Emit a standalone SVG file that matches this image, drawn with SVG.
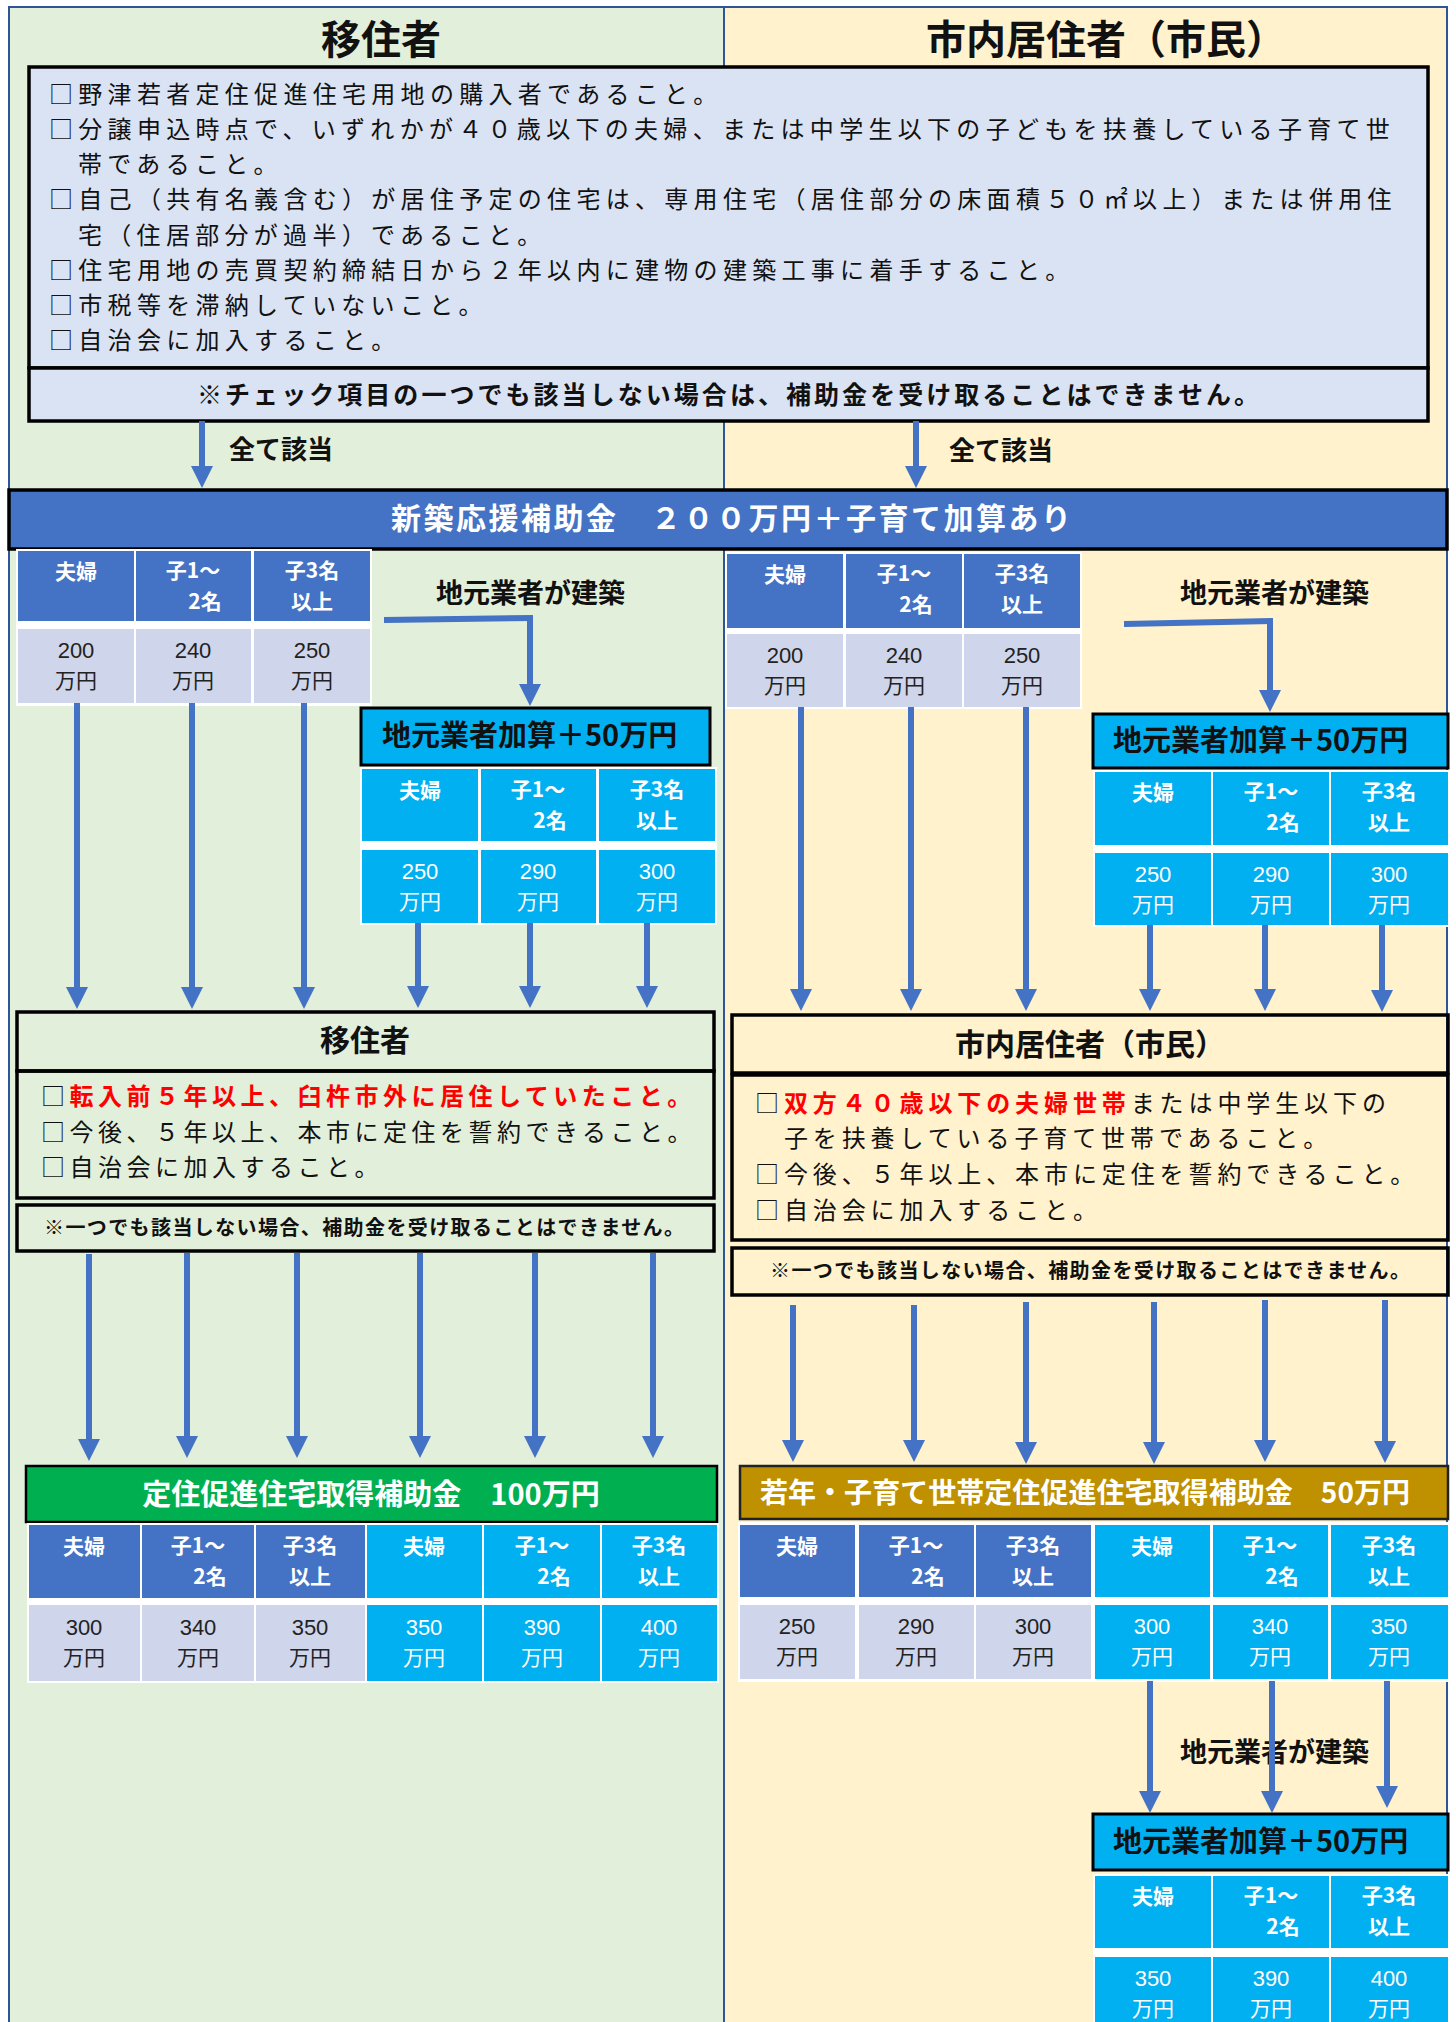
<svg xmlns="http://www.w3.org/2000/svg" width="1456" height="2022" viewBox="0 0 1456 2022">
<style>
text{font-family:"Noto Sans CJK JP","Noto Sans CJK SC","Noto Sans",sans-serif;}
.b{font-weight:700;}
.box{fill:none;stroke:#000;stroke-width:3.5;}
.hb{fill:#4472C4;}
.hc{fill:#00B0F0;}
.vl{fill:#CFD5EA;}
.th{font-size:21px;font-weight:700;fill:#fff;text-anchor:middle;}
.tv{font-size:21px;fill:#222;text-anchor:middle;}
.tvc{font-size:21px;fill:#fff;text-anchor:middle;}
.dg{font-family:"Liberation Sans",Arial,sans-serif;font-size:22px;}
.cond{font-size:24px;fill:#111;letter-spacing:5.3px;}
.cond2{font-size:24px;fill:#111;letter-spacing:4.5px;}
.cond3{font-size:24px;fill:#111;letter-spacing:4.9px;}
.red{fill:#FF0000;font-weight:700;}
.arr{stroke:#4472C4;stroke-width:6;fill:none;marker-end:url(#ah);}
.brk{stroke:#4472C4;stroke-width:6;fill:none;}
</style>
<defs>
<marker id="ah" markerUnits="userSpaceOnUse" markerWidth="22" markerHeight="22" viewBox="0 0 22 22" refX="1" refY="11" orient="auto"><path d="M0,0 L22,11 L0,22 z" fill="#4472C4"/></marker>
</defs>
<rect x="0" y="0" width="1456" height="2022" fill="#fff"/>
<rect x="9" y="7" width="715" height="2030" fill="#E2EFDA" stroke="#2F5597" stroke-width="2"/>
<rect x="724" y="7" width="723" height="2030" fill="#FFF2CC" stroke="#2F5597" stroke-width="2"/>

<g id="title-left"><text x="381" y="54" class="b" font-size="40" text-anchor="middle" fill="#111">移住者</text></g>
<g id="title-right"><text x="1106" y="54" class="b" font-size="40" text-anchor="middle" fill="#111">市内居住者（市民）</text></g>

<g id="checklist">
<rect x="29" y="67" width="1399" height="301" fill="#DAE3F3" stroke="#000" stroke-width="3.5"/>
<text class="cond"><tspan x="49" y="103">□野津若者定住促進住宅用地の購入者であること。</tspan><tspan x="49" y="138">□分譲申込時点で、いずれかが４０歳以下の夫婦、または中学生以下の子どもを扶養している子育て世</tspan><tspan x="78" y="173">帯であること。</tspan><tspan x="49" y="208">□自己（共有名義含む）が居住予定の住宅は、専用住宅（居住部分の床面積５０㎡以上）または併用住</tspan><tspan x="78" y="244">宅（住居部分が過半）であること。</tspan><tspan x="49" y="279">□住宅用地の売買契約締結日から２年以内に建物の建築工事に着手すること。</tspan><tspan x="49" y="314">□市税等を滞納していないこと。</tspan><tspan x="49" y="349">□自治会に加入すること。</tspan></text>
</g>
<g id="check-note">
<rect x="29" y="368" width="1399" height="53" fill="#DAE3F3" stroke="#000" stroke-width="3.5"/>
<text x="197" y="404" class="b" font-size="25" fill="#111" textLength="1062" lengthAdjust="spacing">※チェック項目の一つでも該当しない場合は、補助金を受け取ることはできません。</text>
</g>
<g id="label-all-left"><text x="229" y="459" class="b" font-size="26" fill="#111">全て該当</text></g>
<g id="label-all-right"><text x="949" y="460" class="b" font-size="26" fill="#111">全て該当</text></g>

<g id="banner-new">
<rect x="9" y="490" width="1438" height="59" fill="#4472C4" stroke="#000" stroke-width="3.5"/>
<text x="391" y="529" class="b" font-size="30" fill="#fff" textLength="680" lengthAdjust="spacing">新築応援補助金　２００万円＋子育て加算あり</text>
</g>

<g id="table-left-base">
<rect x="16" y="549" width="356" height="157" fill="#fff"/>
<rect class="hb" x="18" y="551" width="116" height="70"/><rect class="hb" x="136" y="551" width="115" height="70"/><rect class="hb" x="254" y="551" width="116" height="70"/>
<rect class="vl" x="18" y="629" width="116" height="74"/><rect class="vl" x="136" y="629" width="115" height="74"/><rect class="vl" x="254" y="629" width="116" height="74"/>
<text class="th" x="76" y="579">夫婦</text>
<text class="th"><tspan x="193" y="578">子1～</tspan><tspan x="205" y="609">2名</tspan></text>
<text class="th"><tspan x="312" y="578">子3名</tspan><tspan x="312" y="609">以上</tspan></text>
<text class="tv"><tspan class="dg" x="76" y="658">200</tspan><tspan x="76" y="688">万円</tspan></text>
<text class="tv"><tspan class="dg" x="193" y="658">240</tspan><tspan x="193" y="688">万円</tspan></text>
<text class="tv"><tspan class="dg" x="312" y="658">250</tspan><tspan x="312" y="688">万円</tspan></text>
</g>

<g id="label-local-left"><text x="436" y="603" class="b" font-size="27" fill="#111">地元業者が建築</text></g>

<g id="local-add-left">
<rect x="361" y="708" width="349" height="57" fill="#00B0F0" stroke="#000" stroke-width="3"/>
<text x="382" y="746" class="b" font-size="29" fill="#111">地元業者加算＋50万円</text>
</g>
<g id="table-left-local">
<rect x="360" y="767" width="357" height="158" fill="#fff"/>
<rect class="hc" x="362" y="769" width="116" height="72"/><rect class="hc" x="481" y="769" width="115" height="72"/><rect class="hc" x="599" y="769" width="116" height="72"/>
<rect class="hc" x="362" y="850" width="116" height="73"/><rect class="hc" x="481" y="850" width="115" height="73"/><rect class="hc" x="599" y="850" width="116" height="73"/>
<text class="th" x="420" y="798">夫婦</text>
<text class="th"><tspan x="538" y="797">子1～</tspan><tspan x="550" y="828">2名</tspan></text>
<text class="th"><tspan x="657" y="797">子3名</tspan><tspan x="657" y="828">以上</tspan></text>
<text class="tvc"><tspan class="dg" x="420" y="879">250</tspan><tspan x="420" y="909">万円</tspan></text>
<text class="tvc"><tspan class="dg" x="538" y="879">290</tspan><tspan x="538" y="909">万円</tspan></text>
<text class="tvc"><tspan class="dg" x="657" y="879">300</tspan><tspan x="657" y="909">万円</tspan></text>
</g>

<g id="table-right-base">
<rect x="725" y="552" width="357" height="157" fill="#fff"/>
<rect class="hb" x="727" y="554" width="116" height="74"/><rect class="hb" x="846" y="554" width="116" height="74"/><rect class="hb" x="964" y="554" width="116" height="74"/>
<rect class="vl" x="727" y="634" width="116" height="73"/><rect class="vl" x="846" y="634" width="116" height="73"/><rect class="vl" x="964" y="634" width="116" height="73"/>
<text class="th" x="785" y="582">夫婦</text>
<text class="th"><tspan x="904" y="581">子1～</tspan><tspan x="916" y="612">2名</tspan></text>
<text class="th"><tspan x="1022" y="581">子3名</tspan><tspan x="1022" y="612">以上</tspan></text>
<text class="tv"><tspan class="dg" x="785" y="663">200</tspan><tspan x="785" y="693">万円</tspan></text>
<text class="tv"><tspan class="dg" x="904" y="663">240</tspan><tspan x="904" y="693">万円</tspan></text>
<text class="tv"><tspan class="dg" x="1022" y="663">250</tspan><tspan x="1022" y="693">万円</tspan></text>
</g>

<g id="label-local-right"><text x="1180" y="603" class="b" font-size="27" fill="#111">地元業者が建築</text></g>

<g id="local-add-right">
<rect x="1093" y="714" width="355" height="54" fill="#00B0F0" stroke="#000" stroke-width="3"/>
<text x="1113" y="751" class="b" font-size="29" fill="#111">地元業者加算＋50万円</text>
</g>
<g id="table-right-local">
<rect x="1093" y="770" width="357" height="157" fill="#fff"/>
<rect class="hc" x="1095" y="772" width="116" height="73"/><rect class="hc" x="1213" y="772" width="116" height="73"/><rect class="hc" x="1331" y="772" width="117" height="73"/>
<rect class="hc" x="1095" y="853" width="116" height="72"/><rect class="hc" x="1213" y="853" width="116" height="72"/><rect class="hc" x="1331" y="853" width="117" height="72"/>
<text class="th" x="1153" y="800">夫婦</text>
<text class="th"><tspan x="1271" y="799">子1～</tspan><tspan x="1283" y="830">2名</tspan></text>
<text class="th"><tspan x="1389" y="799">子3名</tspan><tspan x="1389" y="830">以上</tspan></text>
<text class="tvc"><tspan class="dg" x="1153" y="882">250</tspan><tspan x="1153" y="912">万円</tspan></text>
<text class="tvc"><tspan class="dg" x="1271" y="882">290</tspan><tspan x="1271" y="912">万円</tspan></text>
<text class="tvc"><tspan class="dg" x="1389" y="882">300</tspan><tspan x="1389" y="912">万円</tspan></text>
</g>

<g id="migrant-box">
<rect class="box" x="17" y="1012" width="697" height="59"/>
<text x="365" y="1051" class="b" font-size="30" text-anchor="middle" fill="#111">移住者</text>
<rect class="box" x="17" y="1071" width="697" height="127"/>
<text class="cond2"><tspan x="41" y="1105">□</tspan><tspan class="red">転入前５年以上、臼杵市外に居住していたこと。</tspan><tspan x="41" y="1141">□今後、５年以上、本市に定住を誓約できること。</tspan><tspan x="41" y="1176">□自治会に加入すること。</tspan></text>
</g>
<g id="migrant-note">
<rect class="box" x="17" y="1205" width="697" height="46"/>
<text x="44" y="1235" class="b" font-size="20" fill="#111" textLength="640" lengthAdjust="spacing">※一つでも該当しない場合、補助金を受け取ることはできません。</text>
</g>

<g id="resident-box">
<rect class="box" x="732" y="1015" width="716" height="58"/>
<text x="1090" y="1055" class="b" font-size="30" text-anchor="middle" fill="#111">市内居住者（市民）</text>
<rect class="box" x="732" y="1075" width="716" height="165"/>
<text class="cond3"><tspan x="755" y="1112">□</tspan><tspan class="red">双方４０歳以下の夫婦世帯</tspan><tspan>または中学生以下の</tspan><tspan x="755" y="1147">　子を扶養している子育て世帯であること。</tspan><tspan x="755" y="1183">□今後、５年以上、本市に定住を誓約できること。</tspan><tspan x="755" y="1219">□自治会に加入すること。</tspan></text>
</g>
<g id="resident-note">
<rect class="box" x="732" y="1248" width="716" height="47"/>
<text x="770" y="1278" class="b" font-size="20" fill="#111" textLength="640" lengthAdjust="spacing">※一つでも該当しない場合、補助金を受け取ることはできません。</text>
</g>

<g id="banner-settle">
<rect x="26" y="1466" width="691" height="56" fill="#00B050" stroke="#000" stroke-width="2.5"/>
<text x="371" y="1505" class="b" font-size="29" fill="#fff" text-anchor="middle">定住促進住宅取得補助金　100万円</text>
</g>
<g id="table-settle">
<rect x="27" y="1523" width="692" height="160" fill="#fff"/>
<rect class="hb" x="29" y="1525" width="111" height="73"/><rect class="hb" x="142" y="1525" width="112" height="73"/><rect class="hb" x="256" y="1525" width="109" height="73"/>
<rect class="hc" x="367" y="1525" width="115" height="73"/><rect class="hc" x="484" y="1525" width="116" height="73"/><rect class="hc" x="602" y="1525" width="115" height="73"/>
<rect class="vl" x="29" y="1605" width="111" height="76"/><rect class="vl" x="142" y="1605" width="112" height="76"/><rect class="vl" x="256" y="1605" width="109" height="76"/>
<rect class="hc" x="367" y="1605" width="115" height="76"/><rect class="hc" x="484" y="1605" width="116" height="76"/><rect class="hc" x="602" y="1605" width="115" height="76"/>
<text class="th" x="84" y="1554">夫婦</text>
<text class="th"><tspan x="198" y="1553">子1～</tspan><tspan x="210" y="1584">2名</tspan></text>
<text class="th"><tspan x="310" y="1553">子3名</tspan><tspan x="310" y="1584">以上</tspan></text>
<text class="th" x="424" y="1554">夫婦</text>
<text class="th"><tspan x="542" y="1553">子1～</tspan><tspan x="554" y="1584">2名</tspan></text>
<text class="th"><tspan x="659" y="1553">子3名</tspan><tspan x="659" y="1584">以上</tspan></text>
<text class="tv"><tspan class="dg" x="84" y="1635">300</tspan><tspan x="84" y="1665">万円</tspan></text>
<text class="tv"><tspan class="dg" x="198" y="1635">340</tspan><tspan x="198" y="1665">万円</tspan></text>
<text class="tv"><tspan class="dg" x="310" y="1635">350</tspan><tspan x="310" y="1665">万円</tspan></text>
<text class="tvc"><tspan class="dg" x="424" y="1635">350</tspan><tspan x="424" y="1665">万円</tspan></text>
<text class="tvc"><tspan class="dg" x="542" y="1635">390</tspan><tspan x="542" y="1665">万円</tspan></text>
<text class="tvc"><tspan class="dg" x="659" y="1635">400</tspan><tspan x="659" y="1665">万円</tspan></text>
</g>

<g id="banner-young">
<rect x="740" y="1466" width="708" height="53" fill="#BF9000" stroke="#222" stroke-width="2.5"/>
<text x="760" y="1503" class="b" font-size="28" fill="#fff" textLength="650" lengthAdjust="spacing">若年・子育て世帯定住促進住宅取得補助金　50万円</text>
</g>
<g id="table-young">
<rect x="738" y="1522" width="712" height="160" fill="#fff"/>
<rect class="hb" x="740" y="1525" width="115" height="72"/><rect class="hb" x="859" y="1525" width="115" height="72"/><rect class="hb" x="976" y="1525" width="115" height="72"/>
<rect class="hc" x="1095" y="1525" width="115" height="72"/><rect class="hc" x="1213" y="1525" width="115" height="72"/><rect class="hc" x="1331" y="1525" width="117" height="72"/>
<rect class="vl" x="740" y="1605" width="115" height="74"/><rect class="vl" x="859" y="1605" width="115" height="74"/><rect class="vl" x="976" y="1605" width="115" height="74"/>
<rect class="hc" x="1095" y="1605" width="115" height="74"/><rect class="hc" x="1213" y="1605" width="115" height="74"/><rect class="hc" x="1331" y="1605" width="117" height="74"/>
<text class="th" x="797" y="1554">夫婦</text>
<text class="th"><tspan x="916" y="1553">子1～</tspan><tspan x="928" y="1584">2名</tspan></text>
<text class="th"><tspan x="1033" y="1553">子3名</tspan><tspan x="1033" y="1584">以上</tspan></text>
<text class="th" x="1152" y="1554">夫婦</text>
<text class="th"><tspan x="1270" y="1553">子1～</tspan><tspan x="1282" y="1584">2名</tspan></text>
<text class="th"><tspan x="1389" y="1553">子3名</tspan><tspan x="1389" y="1584">以上</tspan></text>
<text class="tv"><tspan class="dg" x="797" y="1634">250</tspan><tspan x="797" y="1664">万円</tspan></text>
<text class="tv"><tspan class="dg" x="916" y="1634">290</tspan><tspan x="916" y="1664">万円</tspan></text>
<text class="tv"><tspan class="dg" x="1033" y="1634">300</tspan><tspan x="1033" y="1664">万円</tspan></text>
<text class="tvc"><tspan class="dg" x="1152" y="1634">300</tspan><tspan x="1152" y="1664">万円</tspan></text>
<text class="tvc"><tspan class="dg" x="1270" y="1634">340</tspan><tspan x="1270" y="1664">万円</tspan></text>
<text class="tvc"><tspan class="dg" x="1389" y="1634">350</tspan><tspan x="1389" y="1664">万円</tspan></text>
</g>

<g id="label-local-bottom"><text x="1180" y="1762" class="b" font-size="27" fill="#111">地元業者が建築</text></g>
<g id="local-add-bottom">
<rect x="1093" y="1814" width="355" height="56" fill="#00B0F0" stroke="#000" stroke-width="3"/>
<text x="1113" y="1852" class="b" font-size="29" fill="#111">地元業者加算＋50万円</text>
</g>
<g id="table-bottom-local">
<rect x="1093" y="1874" width="357" height="160" fill="#fff"/>
<rect class="hc" x="1095" y="1876" width="116" height="72"/><rect class="hc" x="1213" y="1876" width="116" height="72"/><rect class="hc" x="1331" y="1876" width="117" height="72"/>
<rect class="hc" x="1095" y="1957" width="116" height="75"/><rect class="hc" x="1213" y="1957" width="116" height="75"/><rect class="hc" x="1331" y="1957" width="117" height="75"/>
<text class="th" x="1153" y="1904">夫婦</text>
<text class="th"><tspan x="1271" y="1903">子1～</tspan><tspan x="1283" y="1934">2名</tspan></text>
<text class="th"><tspan x="1389" y="1903">子3名</tspan><tspan x="1389" y="1934">以上</tspan></text>
<text class="tvc"><tspan class="dg" x="1153" y="1986">350</tspan><tspan x="1153" y="2016">万円</tspan></text>
<text class="tvc"><tspan class="dg" x="1271" y="1986">390</tspan><tspan x="1271" y="2016">万円</tspan></text>
<text class="tvc"><tspan class="dg" x="1389" y="1986">400</tspan><tspan x="1389" y="2016">万円</tspan></text>
</g>

<g id="connectors">
<line class="arr" x1="202" y1="421" x2="202" y2="467"/>
<line class="arr" x1="916" y1="421" x2="916" y2="467"/>
<polyline class="brk" points="384,620 533,618"/>
<line class="arr" x1="530" y1="618" x2="530" y2="685"/>
<polyline class="brk" points="1124,624 1273,621"/>
<line class="arr" x1="1270" y1="621" x2="1270" y2="691"/>
<line class="arr" x1="77" y1="703" x2="77" y2="988"/>
<line class="arr" x1="192" y1="703" x2="192" y2="988"/>
<line class="arr" x1="304" y1="703" x2="304" y2="988"/>
<line class="arr" x1="418" y1="923" x2="418" y2="987"/>
<line class="arr" x1="530" y1="923" x2="530" y2="987"/>
<line class="arr" x1="647" y1="923" x2="647" y2="987"/>
<line class="arr" x1="801" y1="707" x2="801" y2="990"/>
<line class="arr" x1="911" y1="707" x2="911" y2="990"/>
<line class="arr" x1="1026" y1="707" x2="1026" y2="990"/>
<line class="arr" x1="1150" y1="925" x2="1150" y2="990"/>
<line class="arr" x1="1265" y1="925" x2="1265" y2="990"/>
<line class="arr" x1="1382" y1="925" x2="1382" y2="991"/>
<line class="arr" x1="89" y1="1254" x2="89" y2="1440"/>
<line class="arr" x1="187" y1="1253" x2="187" y2="1437"/>
<line class="arr" x1="297" y1="1253" x2="297" y2="1437"/>
<line class="arr" x1="420" y1="1253" x2="420" y2="1437"/>
<line class="arr" x1="535" y1="1253" x2="535" y2="1437"/>
<line class="arr" x1="653" y1="1253" x2="653" y2="1437"/>
<line class="arr" x1="793" y1="1305" x2="793" y2="1441"/>
<line class="arr" x1="914" y1="1305" x2="914" y2="1441"/>
<line class="arr" x1="1026" y1="1302" x2="1026" y2="1443"/>
<line class="arr" x1="1154" y1="1302" x2="1154" y2="1443"/>
<line class="arr" x1="1265" y1="1300" x2="1265" y2="1441"/>
<line class="arr" x1="1385" y1="1300" x2="1385" y2="1442"/>
<line class="arr" x1="1150" y1="1681" x2="1150" y2="1792"/>
<line class="arr" x1="1272" y1="1681" x2="1272" y2="1792"/>
<line class="arr" x1="1387" y1="1681" x2="1387" y2="1787"/>
</g>
</svg>
